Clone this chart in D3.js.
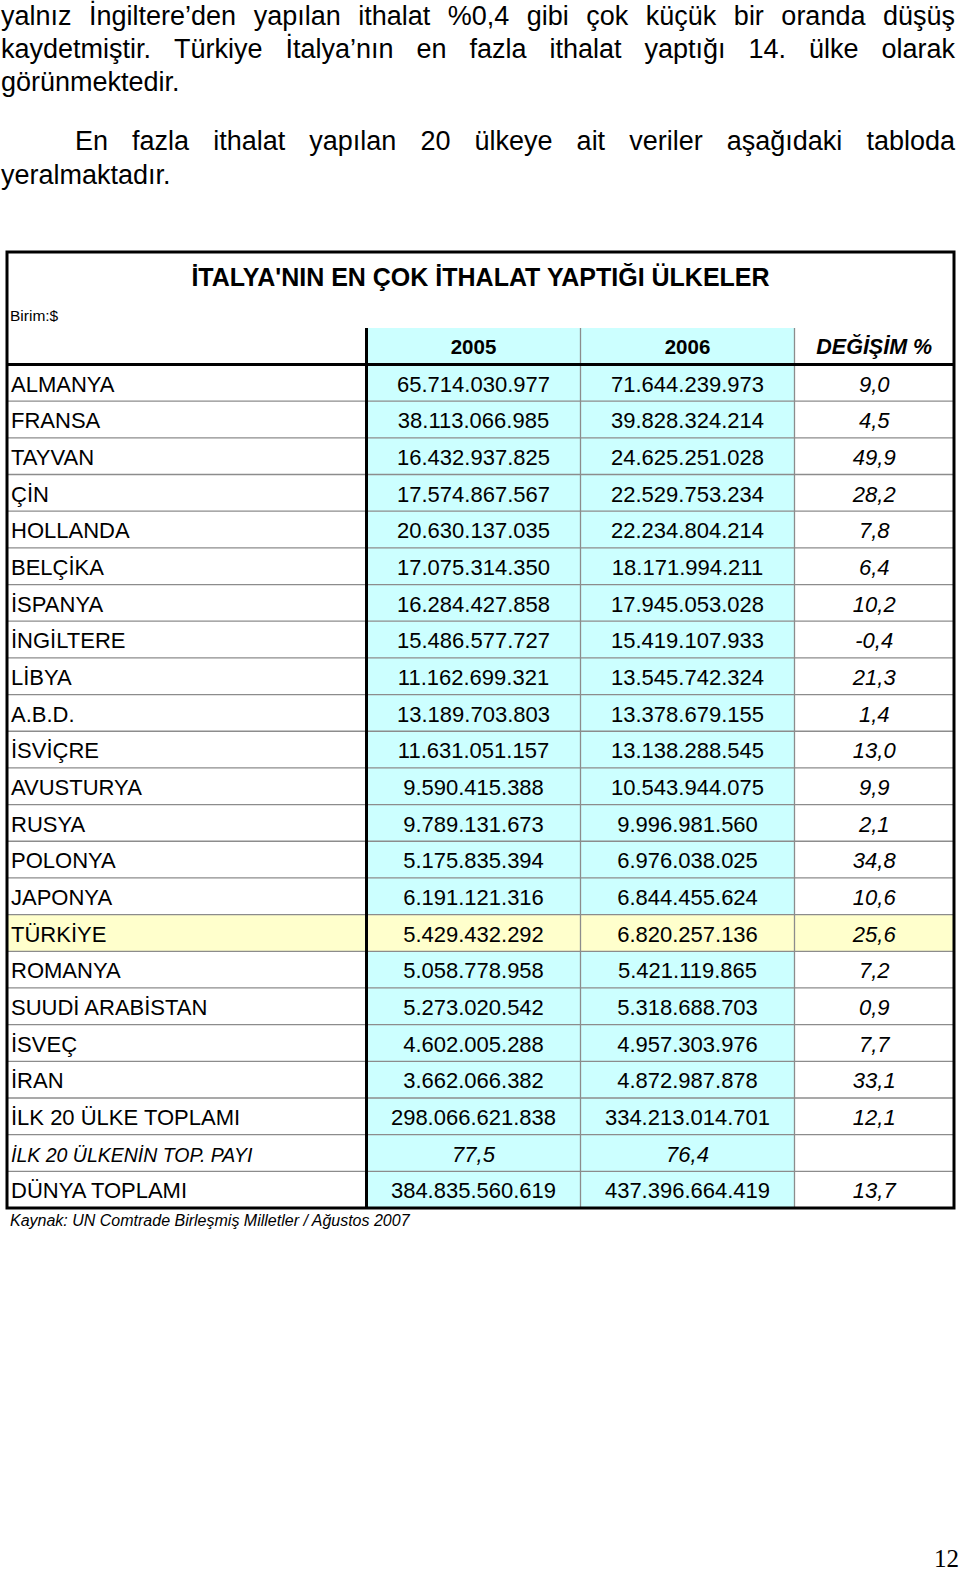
<!DOCTYPE html>
<html>
<head>
<meta charset="utf-8">
<script src="https://cdn.jsdelivr.net/npm/d3@7"></script>
<style>
  html, body { margin: 0; padding: 0; background: #fff; }
  svg { display: block; }
  text { font-family: "Liberation Sans", Arial, sans-serif; fill: #000; }
</style>
</head>
<body>
<svg id="chart" width="960" height="1583"></svg>
<script>
// ---------- data ----------
const paragraphLines = [
  "yalnız İngiltere’den yapılan ithalat %0,4 gibi çok küçük bir oranda düşüş",
  "kaydetmiştir. Türkiye İtalya’nın en fazla ithalat yaptığı 14. ülke olarak",
  "görünmektedir.",
  "En fazla ithalat yapılan 20 ülkeye ait veriler aşağıdaki tabloda",
  "yeralmaktadır."
];
const tableTitle = "İTALYA'NIN EN ÇOK İTHALAT YAPTIĞI ÜLKELER";
const unitLabel = "Birim:$";
const headers = ["2005", "2006", "DEĞİŞİM %"];
const countries = ["ALMANYA","FRANSA","TAYVAN","ÇİN","HOLLANDA","BELÇİKA","İSPANYA","İNGİLTERE","LİBYA","A.B.D.","İSVİÇRE","AVUSTURYA","RUSYA","POLONYA","JAPONYA","TÜRKİYE","ROMANYA","SUUDİ ARABİSTAN","İSVEÇ","İRAN"];
const values2005 = [65714030977,38113066985,16432937825,17574867567,20630137035,17075314350,16284427858,15486577727,11162699321,13189703803,11631051157,9590415388,9789131673,5175835394,6191121316,5429432292,5058778958,5273020542,4602005288,3662066382];
const values2006 = [71644239973,39828324214,24625251028,22529753234,22234804214,18171994211,17945053028,15419107933,13545742324,13378679155,13138288545,10543944075,9996981560,6976038025,6844455624,6820257136,5421119865,5318688703,4957303976,4872987878];
const changePct = [9.0,4.5,49.9,28.2,7.8,6.4,10.2,-0.4,21.3,1.4,13.0,9.9,2.1,34.8,10.6,25.6,7.2,0.9,7.7,33.1];
const totalLabels = ["İLK 20 ÜLKE TOPLAMI","İLK 20 ÜLKENİN TOP. PAYI","DÜNYA TOPLAMI"];
const totals2005 = [298066621838, 77.5, 384835560619];
const totals2006 = [334213014701, 76.4, 437396664419];
const totalsChange = [12.1, null, 13.7];
const highlightCountry = "TÜRKİYE";
const sourceNote = "Kaynak: UN Comtrade Birleşmiş Milletler / Ağustos 2007";
const pageNumber = "12";

// ---------- formatting ----------
const trLocale = d3.formatLocale({decimal: ",", thousands: ".", grouping: [3], currency: ["", "$"]});
const fmtInt = trLocale.format(",.0f");
const fmt1 = trLocale.format(".1f");

const rows = countries.map((c, i) => ({label: c, a: values2005[i], b: values2006[i], ch: changePct[i], kind: "country"}));
totalLabels.forEach((l, i) => rows.push({label: l, a: totals2005[i], b: totals2006[i], ch: totalsChange[i], kind: i === 1 ? "share" : "total"}));

const svg = d3.select("#chart");
svg.append("rect").attr("width", 960).attr("height", 1583).attr("fill", "#fff");

// ---------- paragraph (justified) ----------
const para = svg.append("g");
const paraFont = 27;
const paraSpecs = [
  {x0: 1, x1: 955, y: 25, justify: true},
  {x0: 1, x1: 955, y: 58, justify: true},
  {x0: 1, x1: 955, y: 91, justify: false},
  {x0: 75, x1: 955, y: 150, justify: true},
  {x0: 1, x1: 955, y: 184, justify: false}
];
paragraphLines.forEach((line, li) => {
  const spec = paraSpecs[li];
  const words = line.split(" ");
  const g = para.append("g");
  const nodes = words.map(w => g.append("text").attr("font-size", paraFont).attr("y", spec.y).text(w));
  const widths = nodes.map(n => n.node().getComputedTextLength());
  const total = d3.sum(widths);
  const gap = spec.justify && words.length > 1 ? (spec.x1 - spec.x0 - total) / (words.length - 1) : paraFont * 0.278;
  let x = spec.x0;
  nodes.forEach((n, i) => { n.attr("x", x); x += widths[i] + gap; });
});

// ---------- table geometry ----------
const tLeft = 7, tRight = 954, tTop = 252, tBottom = 1208;
const headTop = 328, headBottom = 364.5;
const colKeys = ["label", "a", "b", "ch"];
const colLeft = d3.scaleOrdinal().domain(colKeys).range([tLeft, 366.5, 580.5, 794.5]);
const colRight = d3.scaleOrdinal().domain(colKeys).range([366.5, 580.5, 794.5, tRight]);
const colMid = k => (colLeft(k) + colRight(k)) / 2;
const y = d3.scaleBand().domain(rows.map(r => r.label)).range([headBottom, tBottom]).paddingInner(0).paddingOuter(0);

const table = svg.append("g");

// cell backgrounds
const cyan = "#CCFFFF", yellow = "#FFFFCC";
["a", "b"].forEach(k => {
  table.append("rect").attr("x", colLeft(k)).attr("y", headTop)
    .attr("width", colRight(k) - colLeft(k)).attr("height", headBottom - headTop).attr("fill", cyan);
});
rows.forEach(r => {
  colKeys.forEach(k => {
    let fill = (k === "a" || k === "b") ? cyan : "#fff";
    if (r.label === highlightCountry) fill = yellow;
    table.append("rect").attr("x", colLeft(k)).attr("y", y(r.label))
      .attr("width", colRight(k) - colLeft(k)).attr("height", y.bandwidth()).attr("fill", fill);
  });
});

// thin grey grid lines
const grey = "#8c8c8c";
rows.slice(1).forEach(r => {
  table.append("line").attr("x1", tLeft).attr("x2", tRight).attr("y1", y(r.label)).attr("y2", y(r.label))
    .attr("stroke", grey).attr("stroke-width", 1.3);
});
["b", "ch"].forEach(k => {
  table.append("line").attr("x1", colLeft(k)).attr("x2", colLeft(k)).attr("y1", headTop).attr("y2", tBottom)
    .attr("stroke", grey).attr("stroke-width", 1.3);
});

// thick black lines
table.append("line").attr("x1", colLeft("a")).attr("x2", colLeft("a")).attr("y1", headTop).attr("y2", tBottom)
  .attr("stroke", "#000").attr("stroke-width", 3);
table.append("line").attr("x1", tLeft).attr("x2", tRight).attr("y1", headBottom).attr("y2", headBottom)
  .attr("stroke", "#000").attr("stroke-width", 3);
table.append("rect").attr("x", tLeft).attr("y", tTop).attr("width", tRight - tLeft).attr("height", tBottom - tTop)
  .attr("fill", "none").attr("stroke", "#000").attr("stroke-width", 3);

// title, unit, headers
table.append("text").attr("x", (tLeft + tRight) / 2).attr("y", 286).attr("text-anchor", "middle")
  .attr("font-size", 25).attr("font-weight", "bold").text(tableTitle);
table.append("text").attr("x", 10).attr("y", 321).attr("font-size", 15.5).text(unitLabel);
["a", "b", "ch"].forEach((k, i) => {
  table.append("text").attr("x", colMid(k)).attr("y", 354).attr("text-anchor", "middle")
    .attr("font-size", k === "ch" ? 21.5 : 20.5).attr("font-weight", "bold").attr("font-style", k === "ch" ? "italic" : "normal")
    .text(headers[i]);
});

// rows text
const rowText = table.selectAll("g.row").data(rows).join("g").attr("class", "row")
  .attr("transform", r => `translate(0,${y(r.label) + 27})`);
rowText.append("text").attr("x", 11)
  .attr("font-size", r => r.kind === "share" ? 19.5 : 22)
  .attr("font-style", r => r.kind === "share" ? "italic" : "normal")
  .text(r => r.label);
rowText.append("text").attr("x", colMid("a")).attr("text-anchor", "middle").attr("font-size", 22)
  .attr("font-style", r => r.kind === "share" ? "italic" : "normal")
  .text(r => r.kind === "share" ? fmt1(r.a) : fmtInt(r.a));
rowText.append("text").attr("x", colMid("b")).attr("text-anchor", "middle").attr("font-size", 22)
  .attr("font-style", r => r.kind === "share" ? "italic" : "normal")
  .text(r => r.kind === "share" ? fmt1(r.b) : fmtInt(r.b));
rowText.append("text").attr("x", colMid("ch")).attr("text-anchor", "middle").attr("font-size", 22)
  .attr("font-style", "italic")
  .text(r => r.ch == null ? "" : fmt1(r.ch).replace("−", "-"));

// source note
svg.append("text").attr("x", 10).attr("y", 1226).attr("font-size", 16).attr("font-style", "italic").text(sourceNote);

// page number
svg.append("text").attr("x", 959).attr("y", 1567).attr("text-anchor", "end")
  .style("font-family", "'Liberation Serif', 'Times New Roman', serif").attr("font-size", 25).text(pageNumber);
</script>
</body>
</html>
